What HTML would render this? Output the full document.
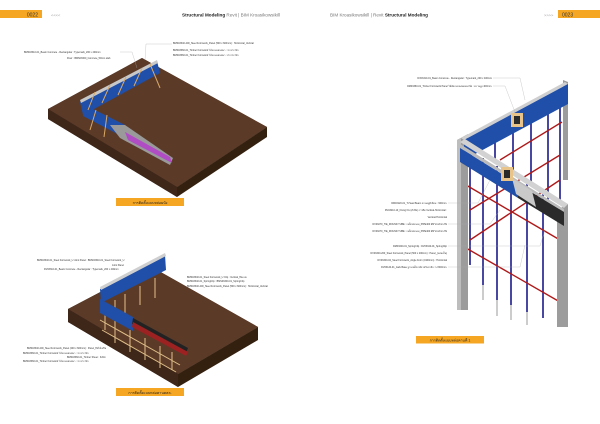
<!DOCTYPE html>
<html><head><meta charset="utf-8"><style>
body{margin:0;background:#fff;width:600px;height:424px;overflow:hidden;font-family:"Liberation Sans","Noto Sans CJK SC",sans-serif}
svg{display:block}
</style></head><body>
<svg width="600" height="424" viewBox="0 0 600 424" xmlns="http://www.w3.org/2000/svg" font-family="Liberation Sans, Noto Sans CJK SC, sans-serif">
<!-- header -->
<rect x="0" y="10" width="42" height="8" fill="#f5a623"/>
<text x="38" y="16.5" font-size="5" text-anchor="end" fill="#333">0022</text>
<text x="51" y="16.5" font-size="4" fill="#999">&lt;&lt;&lt;&lt;</text>
<text x="182" y="16.5" font-size="4.6" fill="#222"><tspan font-weight="bold">Structural Modeling</tspan><tspan fill="#777"> Revit | BIM Kroasikowsikill</tspan></text>
<text x="330" y="16.5" font-size="4.6" fill="#777">BIM Kroasikowsikill | Revit <tspan font-weight="bold" fill="#222">Structural Modeling</tspan></text>
<text x="544" y="16.5" font-size="4" fill="#999">&gt;&gt;&gt;&gt;</text>
<rect x="558" y="10" width="42" height="8" fill="#f5a623"/>
<text x="562" y="16.5" font-size="5" fill="#333">0023</text>

<!-- top-left slab -->
<polygon points="48,109 142,58 267,127 177,187 177,197 48,119" fill="#4a2e1f"/>
<polygon points="48,109 142,58 267,127 177,187" fill="#5b3a28"/>
<polygon points="48,109 177,187 177,197 48,119" fill="#3e2619"/>
<polygon points="177,187 267,127 267,137 177,197" fill="#33200f"/>
<!-- walls -->
<polygon points="80,102 157,61 160,73 83,115" fill="#1f4fa8"/>
<polygon points="80,100 157,60 158,63 81,103" fill="#c8c8c8"/>
<polygon points="83,104 125,125 125,138 83,116" fill="#1f4fa8"/>
<polygon points="110,125 125,125 173,158 170,165 120,138" fill="#9a9a9a"/>
<polygon points="125,108 172,133 173,163 125,138" fill="none"/>
<polygon points="125,132 170,157 172,163 128,140" fill="#b04cc4"/>
<g stroke="#d9a866" stroke-width="1">
<line x1="95" y1="92" x2="88" y2="110"/><line x1="110" y1="85" x2="102" y2="103"/><line x1="126" y1="77" x2="118" y2="95"/><line x1="142" y1="68" x2="134" y2="86"/><line x1="150" y1="64" x2="160" y2="88"/>
<line x1="96" y1="110" x2="90" y2="130"/><line x1="107" y1="115" x2="104" y2="137"/></g>
<g font-size="2.4" fill="#333">
<text x="24" y="53">BMS03310-01_Beam Concrete - Rectangular : Typemark_200 x 400mm</text>
<text x="67" y="59">Floor : BMS03300_Concrete_50mm slab</text>
<text x="173" y="44">BMS03340-400_Steel Formwork_Panel (500 x 600mm) : Horizontal_Vertical</text>
<text x="173" y="51">BMS03360-01_Timber Formwork ไม้แบบแผ่นหนา : 1 x 2 x 3m</text>
<text x="173" y="56">BMS03360-01_Timber Formwork ไม้แบบแผ่นหนา : 2 x 4 x 3m</text></g>
<g stroke="#aaa" stroke-width="0.3" fill="none"><polyline points="120,52 132,52 137,68"/><polyline points="172,44 146,44 145,60"/></g>
<rect x="116" y="198" width="68" height="8" fill="#f5a623"/>
<text x="150" y="203.8" font-size="3.6" text-anchor="middle" fill="#222">การติดตั้งแบบหล่อผนัง</text>

<!-- bottom-left slab -->
<polygon points="68,309 150,266 258,327 178,374 178,387 68,322" fill="#4a2e1f"/>
<polygon points="68,309 150,266 258,327 178,374" fill="#5b3a28"/>
<polygon points="68,309 178,374 178,387 68,322" fill="#3e2619"/>
<polygon points="178,374 258,327 258,340 178,387" fill="#33200f"/>
<g stroke="#e0c089" stroke-width="1">
<line x1="105" y1="305" x2="105" y2="330"/><line x1="115" y1="300" x2="115" y2="330"/><line x1="125" y1="294" x2="125" y2="315"/><line x1="140" y1="286" x2="140" y2="305"/><line x1="155" y1="278" x2="155" y2="298"/>
<line x1="115" y1="322" x2="115" y2="343"/><line x1="130" y1="330" x2="130" y2="352"/><line x1="145" y1="338" x2="145" y2="360"/><line x1="160" y1="346" x2="160" y2="368"/><line x1="172" y1="352" x2="172" y2="370"/>
<line x1="100" y1="320" x2="180" y2="365"/><line x1="102" y1="330" x2="176" y2="372"/></g>
<polygon points="100,289 165,255 166,270 101,303" fill="#1f4fa8"/>
<polygon points="100,287 165,253 166,256 101,290" fill="#cfcfcf"/>
<polygon points="100,299 133,317 133,331 100,313" fill="#1f4fa8"/>
<polygon points="133,318 188,348 186,353 132,324" fill="#222"/>
<polygon points="133,322 188,352 186,356 132,327" fill="#9c2222"/>
<g font-size="2.4" fill="#333">
<text x="37" y="261">BMS03340-01_Steel Formwork_U Joint Panel : BMS03340-01_Steel Formwork_U</text>
<text x="112" y="266">Joint Panel</text>
<text x="44" y="270">DV03310-01_Beam Concrete - Rectangular : Typemark_200 x 400mm</text>
<text x="187" y="278">BMS03340-01_Steel Formwork_U Clip : Vertical_ยึดแบบ</text>
<text x="187" y="282">BMS03340-01_SpringClip : BMS03340-01_SpringClip</text>
<text x="187" y="287">BMS03340-400_Steel Formwork_Panel (500 x 600mm) : Horizontal_Vertical</text>
<text x="27" y="349">BMS03340-200_Steel Formwork_Panel (200 x 600mm) : Panel_ยึดไม้เสริม</text>
<text x="23" y="354">BMS03360-01_Timber Formwork ไม้แบบแผ่นหนา : 1 x 2 x 3m</text>
<text x="67" y="358">BMS03360-01_Timber Sheet : 3x6m</text>
<text x="23" y="362">BMS03360-01_Timber Formwork ไม้แบบแผ่นหนา : 1 x 2 x 3m</text></g>
<rect x="116" y="388" width="68" height="8" fill="#f5a623"/>
<text x="150" y="393.8" font-size="3.6" text-anchor="middle" fill="#222">การติดตั้งแบบหล่อคานคสล.</text>

<!-- right structure -->
<g stroke="#1a1a8a" stroke-width="1.6">
<line x1="470" y1="150" x2="470" y2="265"/><line x1="483" y1="158" x2="483" y2="285"/><line x1="497" y1="166" x2="497" y2="300"/><line x1="511" y1="174" x2="511" y2="305"/><line x1="527" y1="184" x2="527" y2="312"/><line x1="543" y1="194" x2="543" y2="318"/>
<line x1="495" y1="125" x2="495" y2="160"/><line x1="513" y1="116" x2="513" y2="175"/><line x1="531" y1="106" x2="531" y2="185"/><line x1="548" y1="98" x2="548" y2="200"/><line x1="560" y1="92" x2="560" y2="200"/></g>
<g stroke="#aaa" stroke-width="1.2">
<line x1="483" y1="285" x2="483" y2="300"/><line x1="497" y1="300" x2="497" y2="316"/><line x1="511" y1="305" x2="511" y2="320"/><line x1="527" y1="312" x2="527" y2="325"/></g>
<g stroke="#b01818" stroke-width="1.4">
<line x1="466" y1="185" x2="560" y2="240"/><line x1="466" y1="248" x2="560" y2="302"/><line x1="470" y1="240" x2="560" y2="180"/><line x1="500" y1="160" x2="562" y2="122"/><line x1="470" y1="210" x2="560" y2="155"/></g>
<!-- columns -->
<polygon points="457,140 468,134 468,310 457,310" fill="#9c9c9c"/>
<polygon points="457,140 461,138 461,310 457,310" fill="#bdbdbd"/>
<polygon points="557,210 568,204 568,327 557,327" fill="#9c9c9c"/>
<polygon points="563,80 568,82 568,180 563,180" fill="#9c9c9c"/>
<!-- back beam -->
<polygon points="461,138 565,82 568,84 464,140" fill="#cfcfcf"/>
<polygon points="464,140 568,84 568,104 464,160" fill="#1f4fa8"/>
<!-- front beam -->
<polygon points="460,142 465,139 568,204 564,208" fill="#d2d2d2"/>
<polygon points="460,144 564,209 564,212 460,148" fill="#bbb"/>
<polygon points="460,148 518,184 518,198 460,162" fill="#1f4fa8"/>
<polygon points="518,184 564,212 564,226 518,198" fill="#2a2a2a"/>
<polygon points="512,178 532,191 536,207 516,194" fill="#c9c9c9"/>
<rect x="511" y="113" width="12" height="14" fill="#e8c48a"/><rect x="514" y="116" width="6" height="8" fill="#2a2a2a"/>
<rect x="501" y="167" width="12" height="14" fill="#e8c48a"/><rect x="504" y="170" width="6" height="8" fill="#2a2a2a"/>
<g font-size="2.4" fill="#333" text-anchor="end">
<text x="492" y="79">DV03310-01_Beam Concrete - Rectangular : Typemark_200 x 400mm</text>
<text x="492" y="87">DM03360-01_Timber Formwork Panel ไม้อัดแบบหล่อคอนกรีต : ความสูง 400mm.</text>
<text x="447" y="204">DM03120-01_T-Head Beam คานอลูมิเนียม : 900mm.</text>
<text x="447" y="211">DV03210-10_Fixing Fix (ตัวยึด) การยึด Vertical-Horizontal :</text>
<text x="447" y="218">Vertical-Horizontal</text>
<text x="447" y="225">DV03270_TIE_ROUND TUBE : เหล็กท่อกลม_PIPE400 Ø2"x4.2mm.Hk</text>
<text x="447" y="232">DV03270_TIE_ROUND TUBE : เหล็กท่อกลม_PIPE400 Ø2"x4.2mm.Hk</text>
<text x="447" y="247">DM03340-01_SpringClip : DV03340-01_SpringClip</text>
<text x="447" y="254">DV03340-200_Steel Formwork_Panel (500 x 200mm) : Panel_(แผ่นเอ็น)</text>
<text x="447" y="261">DV03340-02_Steel Formwork_Angle Form (0100mm) : Horizontal</text>
<text x="447" y="268">DV03120-01_Jack Base ฐานเหล็กเกลียวปรับระดับ : L=600mm.</text></g>
<g stroke="#aaa" stroke-width="0.3" fill="none"><polyline points="493,78 520,78 525,100"/><polyline points="493,86 505,86 515,112"/>
<polyline points="448,203 478,203 490,180"/><polyline points="448,224 490,224 500,210"/><polyline points="448,246 540,246 545,230"/><polyline points="448,267 520,267 525,245"/></g>
<rect x="416" y="336" width="68" height="7.5" fill="#f5a623"/>
<text x="450" y="341.5" font-size="3.6" text-anchor="middle" fill="#222">การติดตั้งแบบหล่อคานที่ 1</text>
</svg>
</body></html>
